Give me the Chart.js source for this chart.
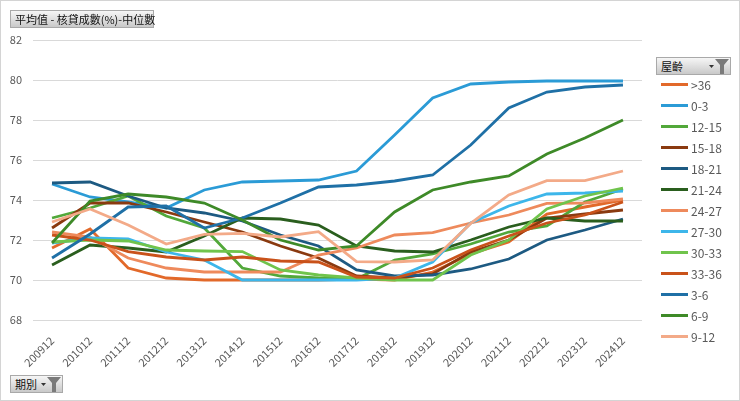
<!DOCTYPE html>
<html>
<head>
<meta charset="utf-8">
<script src="https://cdn.jsdelivr.net/npm/chart.js@4.4.1/dist/chart.umd.min.js"></script>
<style>
  html, body { margin: 0; padding: 0; background: #fff; }
  #wrap { position: relative; width: 740px; height: 401px; overflow: hidden;
          font-family: "Noto Sans CJK TC", "Noto Sans", sans-serif; }
  #frame { position: absolute; left: 0; top: 0; width: 740px; height: 401px; box-sizing: border-box;
           border: 1px solid #d4d4d4; pointer-events: none; }
  #chart { position: absolute; left: 0; top: 0; }
  .btn { position: absolute; box-sizing: border-box; border: 1px solid #a9a9a9;
         background: linear-gradient(#f6f6f6, #c9c9c9); font-size: 11px; color: #111;
         line-height: 16px; padding-left: 4px; white-space: nowrap; }
  .btn svg { position: absolute; }
  #legend { position: absolute; left: 661px; top: 74px; font-size: 12px; color: #595959; }
  .item { height: 21px; display: flex; align-items: center; }
  .swatch { width: 27px; height: 3px; margin-right: 3px; }
</style>
</head>
<body>
<div id="wrap">
  <canvas id="chart" width="740" height="401"></canvas>
  <div class="btn" style="left:10px; top:10px; width:144px; height:18px;">平均值 - 核貸成數(%)-中位數</div>
  <div class="btn" style="left:656px; top:57px; width:75px; height:18px;">屋齡
    <svg style="left:52px; top:7px" width="6" height="4"><polygon points="0,0 5,0 2.5,3" fill="#333"/></svg>
    <svg style="left:58px; top:1px" width="15" height="15"><polygon points="0,0 14,0 9,6 9,15 5,15 5,6" fill="#7a7a7a"/></svg>
  </div>
  <div class="btn" style="left:10px; top:375px; width:53px; height:18px;">期別
    <svg style="left:30px; top:7px" width="6" height="4"><polygon points="0,0 5,0 2.5,3" fill="#333"/></svg>
    <svg style="left:36px; top:1px" width="15" height="15"><polygon points="0,0 14,0 9,6 9,15 5,15 5,6" fill="#7a7a7a"/></svg>
  </div>
  <div id="legend"></div>
  <div id="frame"></div>
</div>
<script>
const periods = ['200912','201012','201112','201212','201312','201412','201512','201612',
                 '201712','201812','201912','202012','202112','202212','202312','202412'];
const ageGroups = ['>36','0-3','12-15','15-18','18-21','21-24','24-27','27-30','30-33','33-36','3-6','6-9','9-12'];

const age36plus = [71.6, 72.55, 70.6, 70.1, 70.0, 70.0, 70.0, 70.0, 70.05, 70.0, 70.4, 71.3, 71.9, 73.3, 73.65, 74.0];
const age0to3   = [74.8, 74.15, 73.9, 73.6, 74.5, 74.9, 74.95, 75.0, 75.45, 77.25, 79.1, 79.8, 79.9, 79.95, 79.95, 79.95];
const age12to15 = [73.1, 73.6, 74.2, 73.2, 72.6, 70.6, 70.2, 70.1, 70.05, 71.0, 71.3, 71.8, 72.4, 72.7, 73.9, 74.55];
const age15to18 = [72.6, 73.85, 73.85, 73.4, 72.9, 72.4, 71.7, 71.1, 70.2, 70.1, 70.3, 71.4, 72.0, 73.1, 73.3, 73.5];
const age18to21 = [74.85, 74.9, 74.2, 73.6, 73.35, 72.95, 72.25, 71.7, 70.5, 70.2, 70.25, 70.55, 71.05, 72.0, 72.5, 73.05];
const age21to24 = [70.75, 71.75, 71.6, 71.4, 72.2, 73.1, 73.05, 72.75, 71.7, 71.45, 71.4, 72.0, 72.65, 73.1, 72.95, 72.95];
const age24to27 = [72.4, 72.15, 71.1, 70.6, 70.4, 70.4, 70.4, 71.25, 71.6, 72.25, 72.37, 72.85, 73.25, 73.83, 73.85, 74.05];
const age27to30 = [71.85, 72.1, 72.05, 71.4, 71.0, 70.0, 70.0, 70.0, 70.0, 70.1, 70.9, 72.85, 73.7, 74.3, 74.35, 74.45];
const age30to33 = [71.9, 72.0, 71.95, 71.5, 71.45, 71.42, 70.5, 70.25, 70.1, 70.0, 70.0, 71.25, 72.0, 73.55, 74.2, 74.6];
const age33to36 = [72.25, 72.0, 71.42, 71.15, 71.0, 71.15, 70.95, 70.9, 70.15, 70.1, 70.6, 71.5, 72.2, 72.85, 73.25, 73.9];
const age3to6   = [71.1, 72.3, 73.65, 73.7, 72.6, 73.1, 73.85, 74.65, 74.75, 74.95, 75.25, 76.75, 78.6, 79.4, 79.65, 79.75];
const age6to9   = [71.85, 73.95, 74.3, 74.15, 73.85, 73.0, 72.0, 71.5, 71.7, 73.4, 74.5, 74.9, 75.2, 76.3, 77.1, 78.0];
const age9to12  = [72.9, 73.55, 72.75, 71.8, 72.28, 72.33, 72.15, 72.42, 70.92, 70.9, 71.0, 72.83, 74.25, 74.97, 74.97, 75.45];

const seriesValues = [age36plus, age0to3, age12to15, age15to18, age18to21, age21to24, age24to27,
                      age27to30, age30to33, age33to36, age3to6, age6to9, age9to12];
const seriesColors = ['#E2692A','#2B9BD6','#52A83A','#8A3A10','#1D5A82','#2A5E1E','#EE8A5C',
                      '#3DB6EA','#70C44C','#C9521A','#1F70A6','#3E8A28','#F3AA88'];

const tickFont = { family: '"Noto Sans CJK TC", "Noto Sans", sans-serif', size: 11 };

const datasets = ageGroups.map((name, i) => ({
  label: name,
  data: seriesValues[i],
  borderColor: seriesColors[i],
  backgroundColor: seriesColors[i],
  borderWidth: 2.8,
  pointRadius: 0,
  tension: 0,
  fill: false,
  order: ageGroups.length - i
}));

const chart = new Chart(document.getElementById('chart'), {
  type: 'line',
  data: { labels: periods, datasets },
  options: {
    responsive: false,
    animation: false,
    layout: { padding: { top: 40, right: 98, left: 0, bottom: 0 } },
    plugins: { legend: { display: false }, tooltip: { enabled: false } },
    scales: {
      x: {
        offset: true,
        grid: { display: false },
        border: { display: false },
        ticks: { minRotation: 45, maxRotation: 45, autoSkip: false, padding: 6, color: '#595959', font: tickFont },
        afterFit: (s) => { s.height = 81; }
      },
      y: {
        min: 68,
        max: 82,
        grid: { color: '#d9d9d9', drawTicks: false },
        border: { display: false },
        ticks: { stepSize: 2, padding: 11, color: '#595959', font: tickFont },
        afterFit: (s) => { s.width = 33; }
      }
    }
  }
});

// legend from the datasets
const legend = document.getElementById('legend');
chart.data.datasets.forEach(ds => {
  const row = document.createElement('div');
  row.className = 'item';
  const sw = document.createElement('span');
  sw.className = 'swatch';
  sw.style.background = ds.borderColor;
  const txt = document.createElement('span');
  txt.textContent = ds.label;
  row.appendChild(sw);
  row.appendChild(txt);
  legend.appendChild(row);
});
</script>
</body>
</html>
